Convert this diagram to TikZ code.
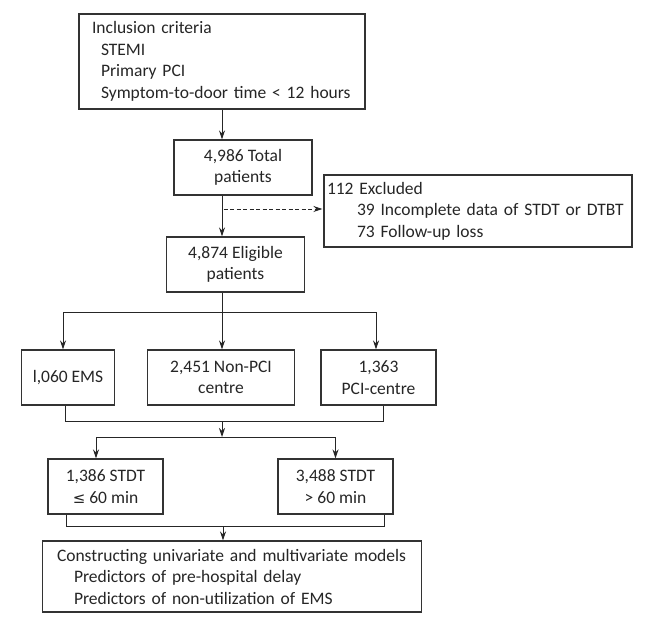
\documentclass[tikz,border=0pt]{standalone}
\usepackage{fontspec}
\setmainfont{Carlito}
\newfontfamily\symfont{DejaVu Sans}
\usetikzlibrary{arrows.meta,calc}
\begin{document}
\begin{tikzpicture}[x=1pt,y=-1pt,
  every node/.style={font=\fontsize{17.5}{21.5}\selectfont, text=black!85},
  box/.style={draw=black!80, line width=1.1pt, rectangle, inner sep=0pt, align=center},
  conn/.style={draw=black!85, line width=0.9pt},
  arr/.style={conn, -{Stealth[length=9pt,width=6pt]}},
  darr/.style={arr, dash pattern=on 4pt off 2.5pt}]
\useasboundingbox (0,0) rectangle (645,631);
\fill[white] (0,0) rectangle (645,631);

\node[box, minimum width=286pt, minimum height=95pt, text width=260pt, align=left] (incl) at (222,61.5)
  {Inclusion criteria\\\hspace*{9pt}STEMI\\\hspace*{9pt}Primary PCI\\\hspace*{9pt}Symptom-to-door time < 12 hours};
\node[box, minimum width=138pt, minimum height=55pt] (total) at (243,167.5) {4,986 Total\\patients};
\node[box, minimum width=308pt, minimum height=72pt, text width=302pt, align=left] (excl) at (478,211)
  {112 Excluded\\\hspace*{30pt}39 Incomplete data of STDT or DTBT\\\hspace*{30pt}73 Follow-up loss};
\node[box, minimum width=138pt, minimum height=55pt] (elig) at (235.5,264.5) {4,874 Eligible\\patients};

\node[box, minimum width=93.5pt, minimum height=55pt] (ems) at (68,377.5) {l,060 EMS};
\node[box, minimum width=146.5pt, minimum height=55pt] (nonpci) at (221,377.5) {2,451 Non-PCI\\centre};
\node[box, minimum width=115pt, minimum height=55pt] (pci) at (378.5,377.5) {1,363\\PCI-centre};

\node[box, minimum width=115pt, minimum height=55pt] (s1) at (105.5,486.5) {1,386 STDT\\{\symfont\fontsize{15}{21}\selectfont ≤} 60 min};
\node[box, minimum width=115pt, minimum height=55pt] (s2) at (335.5,486.5) {3,488 STDT\\> 60 min};

\node[box, minimum width=378.5pt, minimum height=71pt, text width=350pt, align=left] (final) at (232,576.5)
  {Constructing univariate and multivariate models\\\hspace*{17pt}Predictors of pre-hospital delay\\\hspace*{17pt}Predictors of non-utilization of EMS};

% connectors
\draw[arr] (incl.south) -- (incl.south |- total.north);
\draw[arr] (incl.south |- total.south) -- (incl.south |- elig.north);
\coordinate (dstart) at ($(incl.south |- excl.west)+(1.5,-2)$);
\coordinate (dend) at ($(excl.west)+(-1,-2)$);
\draw[darr] (dstart) -- (dend);

\coordinate (t1) at (222,312);
\coordinate (ta) at (63,312);
\coordinate (tb) at (376,312);
\draw[conn] (t1 |- elig.south) -- (t1);
\draw[conn] (ta) -- (tb);
\draw[arr] (ta) -- (ta |- ems.north);
\draw[arr] (t1) -- (t1 |- nonpci.north);
\draw[arr] (tb) -- (tb |- pci.north);

\coordinate (m1) at (222,421);
\coordinate (ma) at (65,421);
\coordinate (mb) at (383,421);
\draw[conn] (ma |- ems.south) -- (ma) -- (mb) -- (mb |- pci.south);
\coordinate (sp) at (222,437);
\coordinate (spa) at (96,437);
\coordinate (spb) at (335.5,437);
\draw[arr] (m1) -- (sp);
\draw[conn] (spa) -- (spb);
\draw[arr] (spa) -- (spa |- s1.north);
\draw[arr] (spb) -- (spb |- s2.north);

\coordinate (f1) at (223,526);
\coordinate (fa) at (66,526);
\coordinate (fb) at (384,526);
\draw[conn] (fa |- s1.south) -- (fa) -- (fb) -- (fb |- s2.south);
\draw[arr] (f1) -- (f1 |- final.north);
\end{tikzpicture}
\end{document}
